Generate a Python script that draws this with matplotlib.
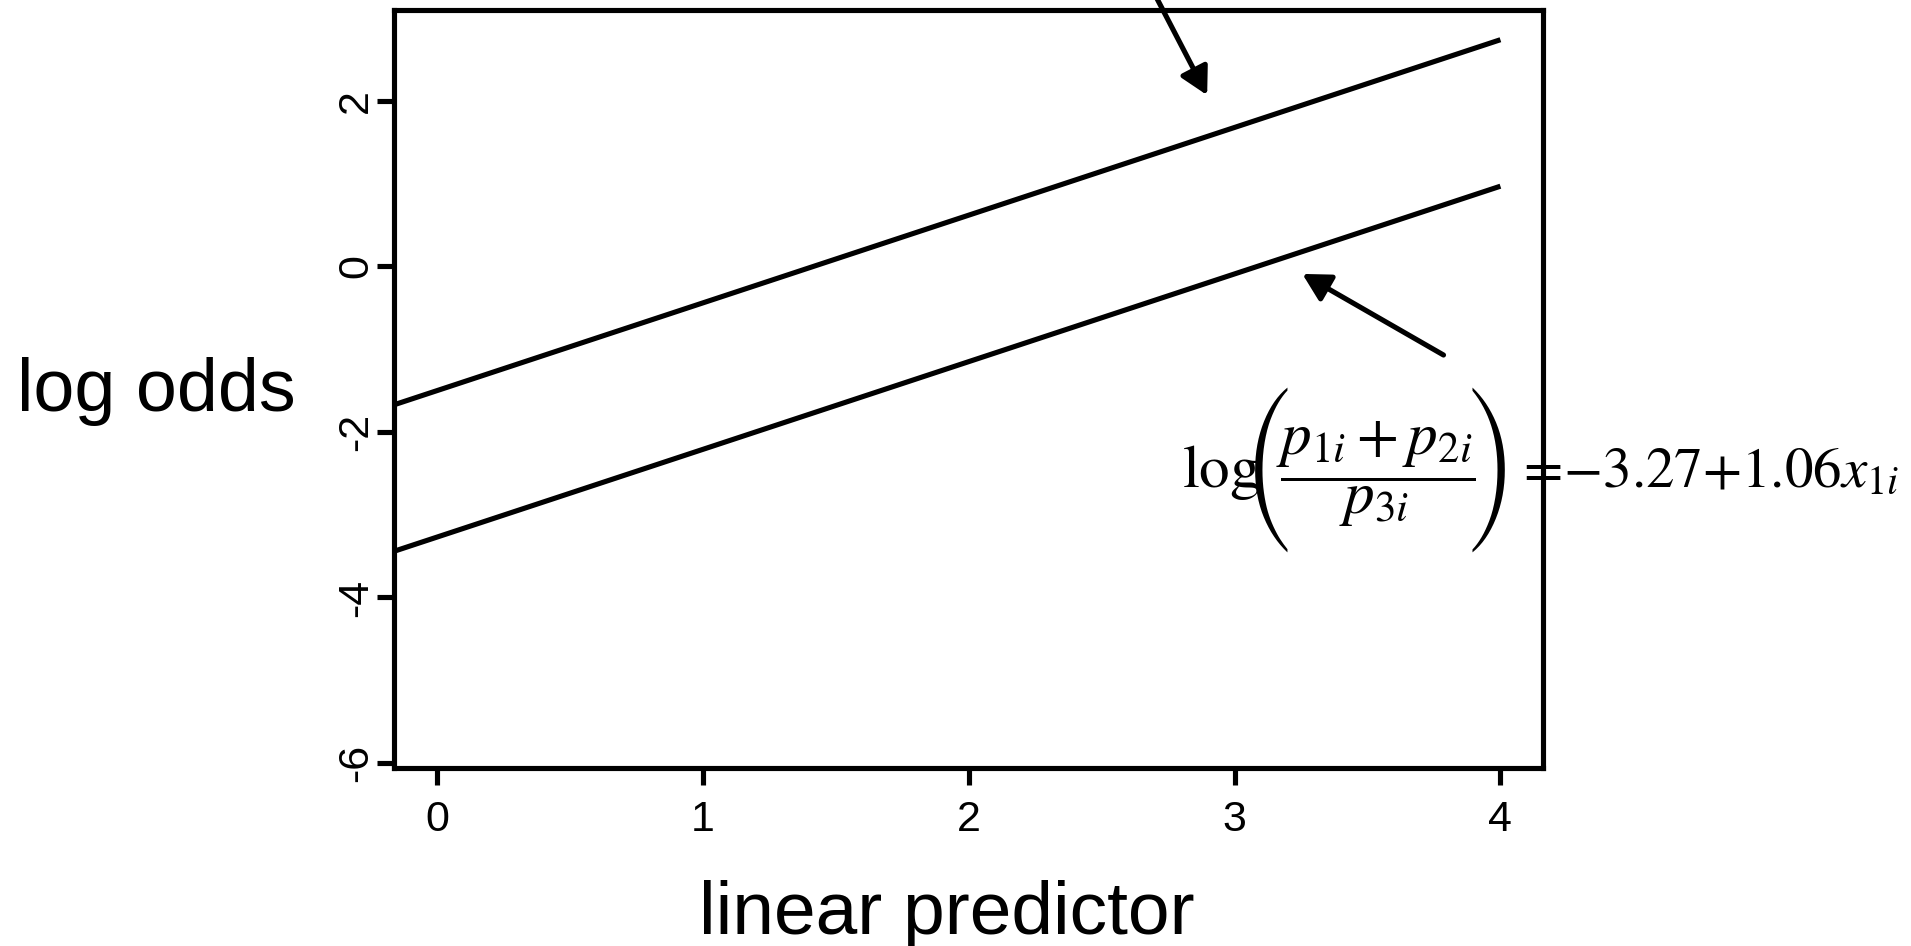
import matplotlib
matplotlib.use("Agg")
import matplotlib.pyplot as plt

# data
x_ends = [-0.16, 4.0]
upper_y = [-1.67, 2.74]
lower_y = [-3.44, 0.97]
x_ticks = [0, 1, 2, 3, 4]
y_ticks = [-6, -4, -2, 0, 2]

eq_log = r"$\mathrm{log}$"
eq_frac = r"$\dfrac{p_{1i}+p_{2i}}{p_{3i}}$"
eq_rhs = r"$=\!{-}3.27{+}1.06x_{1i}$"

plt.rcParams['font.family'] = ['Liberation Sans', 'DejaVu Sans']
plt.rcParams['mathtext.fontset'] = 'stix'

W, H = 1911, 946
fig = plt.figure(figsize=(W / 100, H / 100), dpi=100)
ax = fig.add_axes([0.2064, 0.1882, 0.6010, 0.8013])


def fx(px):
    return px / W


def fy(py):
    return 1 - py / H


lw = 3.7
ax.plot(x_ends, upper_y, color='black', linewidth=lw, solid_capstyle='butt')
ax.plot(x_ends, lower_y, color='black', linewidth=lw, solid_capstyle='butt')

ax.set_xlim(-0.16, 4.16)
ax.set_ylim(-6.06, 3.10)
ax.set_xticks(x_ticks)
ax.set_yticks(y_ticks)
ax.set_xticklabels([str(t) for t in x_ticks], fontsize=31)
ax.set_yticklabels([str(t) for t in y_ticks], fontsize=31, rotation=90, va='center')
ax.tick_params(length=12, width=lw)
ax.tick_params(axis='x', pad=11)
ax.tick_params(axis='y', pad=1)
for s in ax.spines.values():
    s.set_linewidth(lw)

# arrows
arrow_style = dict(arrowstyle='-|>,head_length=0.55,head_width=0.3', color='black',
                   lw=lw, mutation_scale=30, shrinkA=0, shrinkB=0)
ax.annotate('', xy=(2.897, 2.07), xytext=(2.69, 3.35), arrowprops=arrow_style,
            annotation_clip=False)
ax.annotate('', xy=(3.255, -0.09), xytext=(3.786, -1.07), arrowprops=arrow_style)

# equation
fig.text(fx(1182), fy(487), eq_log, fontsize=44, ha='left', va='baseline')
fig.text(fx(1268), fy(470), '(', family='STIXSizeThreeSym', fontsize=48,
         ha='center', va='center')
fig.text(fx(1376), fy(474), eq_frac, fontsize=44, ha='center', va='center')
fig.text(fx(1492), fy(470), ')', family='STIXSizeThreeSym', fontsize=48,
         ha='center', va='center')
fig.text(fx(1515), fy(487), eq_rhs, fontsize=41, ha='left', va='baseline')

fig.text(fx(17), fy(411), 'log odds', fontsize=53, ha='left', va='baseline')
fig.text(fx(947), fy(934), 'linear predictor', fontsize=54, ha='center', va='baseline')

fig.savefig('out.png', dpi=100)
